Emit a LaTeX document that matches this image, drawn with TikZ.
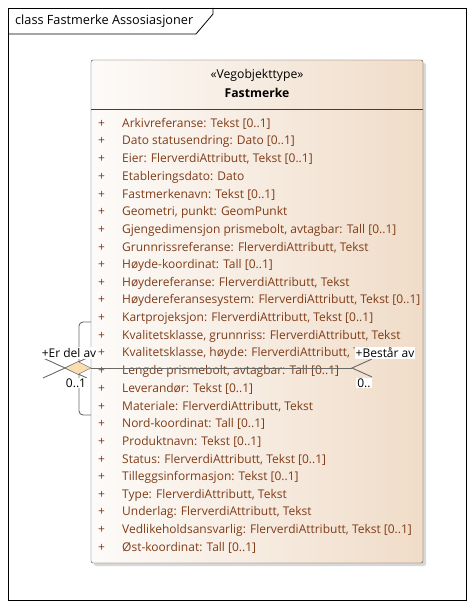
\documentclass[tikz,border=0pt]{standalone}
\usepackage{fontspec}
\setmainfont{Open Sans}
\usepackage{xcolor}
\usepackage{tikz}
\usetikzlibrary{shapes.geometric,shadows}

\definecolor{attrbrown}{RGB}{128,60,24}
\definecolor{umlline}{RGB}{105,105,105}
\definecolor{boxleft}{RGB}{253,251,249}
\definecolor{boxright}{RGB}{240,220,200}
\definecolor{aggfill}{RGB}{250,222,178}

\begin{document}
\begin{tikzpicture}[
  x=1pt, y=-1pt,
  cls/.style={draw=black!75, rounded corners=2pt, minimum width=332pt, minimum height=503pt,
              left color=boxleft, right color=boxright,
              drop shadow={shadow xshift=3pt, shadow yshift=-3pt, fill=black!30}},
  attr/.style={anchor=west, inner sep=0pt, text=attrbrown, font=\fontsize{12}{14}\selectfont},
  lbl/.style={fill=white, inner sep=1pt, font=\fontsize{12}{14}\selectfont},
  agg/.style={diamond, draw=umlline, fill=aggfill, minimum width=26pt, minimum height=13pt, inner sep=0pt},
  wire/.style={draw=umlline, line width=0.9pt}
]
\useasboundingbox (0,0) rectangle (474,609);

% diagram frame
\draw[line width=0.8pt] (8,8) rectangle (466,600);
\draw[line width=0.8pt] (8,34) -- (196,34) -- (213,14) -- (213,8);
\node[anchor=west, inner sep=0pt, font=\fontsize{12.7}{15}\selectfont] (title) at (15,21) {class Fastmerke Assosiasjoner};

% class box
\node[cls] (fm) at (257,311.5) {};
\draw[black!75] (fm.west |- 0,109) -- (fm.east |- 0,109);
\node[font=\fontsize{12.2}{14}\selectfont] (stereo) at (257,75) {«Vegobjekttype»};
\node[font=\bfseries\fontsize{12.2}{14}\selectfont] (name) at (257,93) {Fastmerke};

% attributes
\node[attr] (a1)  at (98,124.0) {\makebox[24pt][l]{+}Arkivreferanse: Tekst [0..1]};
\node[attr] (a2)  at (98,141.7) {\makebox[24pt][l]{+}Dato statusendring: Dato [0..1]};
\node[attr] (a3)  at (98,159.3) {\makebox[24pt][l]{+}Eier: FlerverdiAttributt, Tekst [0..1]};
\node[attr] (a4)  at (98,177.0) {\makebox[24pt][l]{+}Etableringsdato: Dato};
\node[attr] (a5)  at (98,194.7) {\makebox[24pt][l]{+}Fastmerkenavn: Tekst [0..1]};
\node[attr] (a6)  at (98,212.3) {\makebox[24pt][l]{+}Geometri, punkt: GeomPunkt};
\node[attr] (a7)  at (98,230.0) {\makebox[24pt][l]{+}Gjengedimensjon prismebolt, avtagbar: Tall [0..1]};
\node[attr] (a8)  at (98,247.7) {\makebox[24pt][l]{+}Grunnrissreferanse: FlerverdiAttributt, Tekst};
\node[attr] (a9)  at (98,265.3) {\makebox[24pt][l]{+}Høyde-koordinat: Tall [0..1]};
\node[attr] (a10) at (98,283.0) {\makebox[24pt][l]{+}Høydereferanse: FlerverdiAttributt, Tekst};
\node[attr] (a11) at (98,300.7) {\makebox[24pt][l]{+}Høydereferansesystem: FlerverdiAttributt, Tekst [0..1]};
\node[attr] (a12) at (98,318.3) {\makebox[24pt][l]{+}Kartprojeksjon: FlerverdiAttributt, Tekst [0..1]};
\node[attr] (a13) at (98,336.0) {\makebox[24pt][l]{+}Kvalitetsklasse, grunnriss: FlerverdiAttributt, Tekst};
\node[attr] (a14) at (98,353.7) {\makebox[24pt][l]{+}Kvalitetsklasse, høyde: FlerverdiAttributt, Tekst};
\node[attr] (a15) at (98,371.3) {\makebox[24pt][l]{+}Lengde prismebolt, avtagbar: Tall [0..1]};
\node[attr] (a16) at (98,389.0) {\makebox[24pt][l]{+}Leverandør: Tekst [0..1]};
\node[attr] (a17) at (98,406.7) {\makebox[24pt][l]{+}Materiale: FlerverdiAttributt, Tekst};
\node[attr] (a18) at (98,424.3) {\makebox[24pt][l]{+}Nord-koordinat: Tall [0..1]};
\node[attr] (a19) at (98,442.0) {\makebox[24pt][l]{+}Produktnavn: Tekst [0..1]};
\node[attr] (a20) at (98,459.7) {\makebox[24pt][l]{+}Status: FlerverdiAttributt, Tekst [0..1]};
\node[attr] (a21) at (98,477.3) {\makebox[24pt][l]{+}Tilleggsinformasjon: Tekst [0..1]};
\node[attr] (a22) at (98,495.0) {\makebox[24pt][l]{+}Type: FlerverdiAttributt, Tekst};
\node[attr] (a23) at (98,512.7) {\makebox[24pt][l]{+}Underlag: FlerverdiAttributt, Tekst};
\node[attr] (a24) at (98,530.3) {\makebox[24pt][l]{+}Vedlikeholdsansvarlig: FlerverdiAttributt, Tekst [0..1]};
\node[attr] (a25) at (98,548.0) {\makebox[24pt][l]{+}Øst-koordinat: Tall [0..1]};

% self association
\coordinate (s1) at (91,322);
\coordinate (s2) at (91,415);
\draw[wire, rounded corners=4pt] (s1) -- ++(-12,0) -- ++(0,93) -- (s2);
\draw[wire] (43,358) -- (87,378);
\draw[wire] (43,378) -- (87,358);
\node[agg] (agg) at (78,368) {};
\coordinate (tip) at (352,368);
\draw[wire] (agg.east) -- (tip);
\draw[wire] (372,359) -- (tip) -- (372,377);

% role and multiplicity labels
\node[lbl] (r1) at (69,353) {+Er del av};
\node[lbl] (m1) at (76,383) {0..1};
\node[lbl] (r2) at (385,353) {+Består av};
\node[lbl] (m2) at (364,383) {0..};
\end{tikzpicture}
\end{document}
